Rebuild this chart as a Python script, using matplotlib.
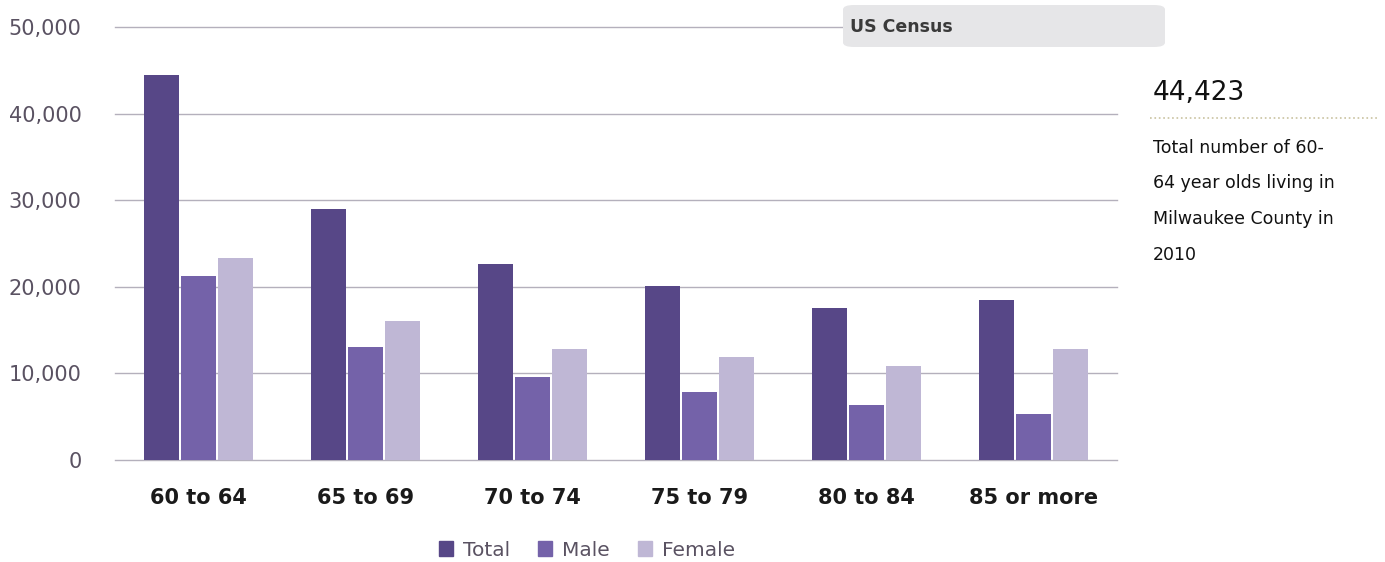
import numpy as np
import matplotlib.pyplot as plt
from matplotlib.patches import FancyBboxPatch, Patch

# Milwaukee County population aged 60+ (2010 Census)
age_groups = ['60 to 64', '65 to 69', '70 to 74', '75 to 79', '80 to 84', '85 or more']
total = [44423, 29000, 22600, 20100, 17600, 18500]
male = [21200, 13100, 9600, 7900, 6300, 5300]
female = [23300, 16000, 12800, 11900, 10800, 12800]
yticks = [0, 10000, 20000, 30000, 40000, 50000]

c_total = '#574787'
c_male = '#7462a9'
c_female = '#bfb7d5'

fig = plt.figure(figsize=(13.85, 5.62), dpi=100)
ax = fig.add_axes([0.083, 0.1815, 0.7235, 0.7705])

x = np.arange(len(age_groups))
w = 0.21
step = 0.222
ax.bar(x - step, total, w, color=c_total, zorder=3)
ax.bar(x, male, w, color=c_male, zorder=3)
ax.bar(x + step, female, w, color=c_female, zorder=3)

ax.set_xlim(-0.5, len(age_groups) - 0.5)
ax.set_ylim(0, 50000)
ax.set_yticks(yticks)
ax.set_yticklabels([f'{v:,}' for v in yticks], fontsize=15, color='#5a5262')
ax.set_xticks(x)
ax.set_xticklabels(age_groups, fontsize=15, fontweight='bold', color='#1a1a1a')
ax.tick_params(axis='both', length=0)
ax.tick_params(axis='y', pad=24)
ax.tick_params(axis='x', pad=20)
ax.grid(axis='y', color='#b4b0bc', linewidth=1.0, zorder=0)
# keep the 0 and 50,000 lines whole at the axes edges
for gl in ax.get_ygridlines():
    gl.set_clip_on(False)
for s in ax.spines.values():
    s.set_visible(False)

# source tag over the top gridline
tag = FancyBboxPatch((843 / 1385, 1 - 47 / 562), 322 / 1385, 42 / 562,
                     boxstyle='round,pad=0,rounding_size=0.008',
                     transform=fig.transFigure, facecolor='#e6e6e8',
                     edgecolor='none', zorder=5)
fig.patches.append(tag)
fig.text(850 / 1385, 1 - 27 / 562, 'US Census', fontsize=12.5, fontweight='bold',
         color='#3a3a3a', va='center', ha='left', zorder=6)

# callout on the right
fig.text(1153 / 1385, 1 - 93 / 562, '44,423', fontsize=19, color='#111111',
         va='center', ha='left')
fig.add_artist(plt.Line2D([1150 / 1385, 1378 / 1385], [1 - 118 / 562, 1 - 118 / 562],
                          transform=fig.transFigure, color='#c9c2a0',
                          linestyle=':', linewidth=1.2))
note = ['Total number of 60-', '64 year olds living in',
        'Milwaukee County in', '2010']
for i, line in enumerate(note):
    fig.text(1153 / 1385, 1 - (148 + i * 35.5) / 562, line, fontsize=12.5,
             color='#111111', va='center', ha='left')

handles = [Patch(color=c_total), Patch(color=c_male), Patch(color=c_female)]
fig.legend(handles, ['Total', 'Male', 'Female'], loc='center',
           bbox_to_anchor=(587 / 1385, 1 - 550 / 562), ncol=3, frameon=False,
           fontsize=14.5, labelcolor='#5a5262', handlelength=0.7, handleheight=0.7,
           handletextpad=0.5, columnspacing=1.4)

fig.savefig('out.png', dpi=100)
